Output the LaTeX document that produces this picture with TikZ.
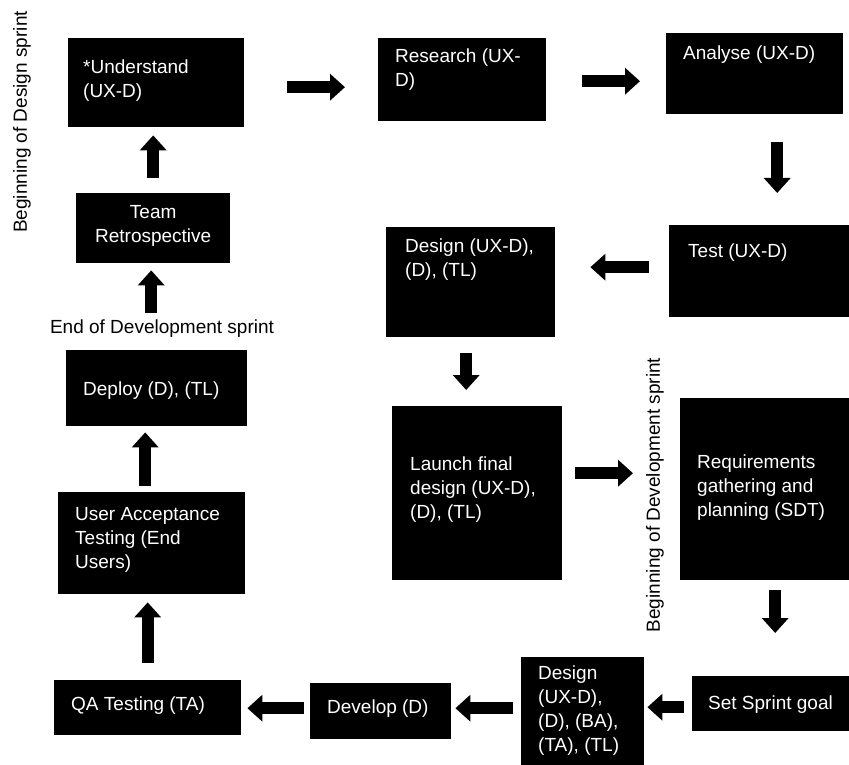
\documentclass[tikz,border=0pt]{standalone}
\usepackage{fontspec}
\setmainfont{Liberation Sans}
\usetikzlibrary{arrows.meta}

\begin{document}
\begin{tikzpicture}[x=1pt, y=-1pt,
  stagebox/.style={fill=black, draw=none, inner sep=0pt, anchor=north west},
  stagetext/.style={text=white, align=left, inner sep=0pt,
    font=\fontsize{19}{24}\selectfont},
  notetext/.style={text=black, inner sep=0pt,
    font=\fontsize{19}{24}\selectfont},
  blockarrow/.style={draw=black, line width=12pt,
    -{Triangle[width=26pt, length=15pt]}}
]
\useasboundingbox (0,0) rectangle (849,765);

% ---------- stages ----------
\node[stagebox, minimum width=176pt, minimum height=89pt]  (understand) at (68,38)  {};
\node[stagebox, minimum width=168pt, minimum height=83pt]  (research)   at (378,38) {};
\node[stagebox, minimum width=177pt, minimum height=81pt]  (analyse)    at (666,33) {};
\node[stagebox, minimum width=180pt, minimum height=92pt]  (test)       at (669,225) {};
\node[stagebox, minimum width=169pt, minimum height=110pt] (design)     at (386,227) {};
\node[stagebox, minimum width=170pt, minimum height=174pt] (launch)     at (392,406) {};
\node[stagebox, minimum width=169pt, minimum height=182pt] (requirements) at (680,398) {};
\node[stagebox, minimum width=157pt, minimum height=55pt]  (setgoal)    at (692,676) {};
\node[stagebox, minimum width=123pt, minimum height=108pt] (designdev)  at (521,657) {};
\node[stagebox, minimum width=141pt, minimum height=56pt]  (develop)    at (310,683) {};
\node[stagebox, minimum width=187pt, minimum height=55pt]  (qa)         at (54,680) {};
\node[stagebox, minimum width=187pt, minimum height=102pt] (uat)        at (58,492) {};
\node[stagebox, minimum width=181pt, minimum height=76pt]  (deploy)     at (66,350) {};
\node[stagebox, minimum width=154pt, minimum height=70pt]  (team)       at (76,193) {};

% ---------- stage texts (anchored on the baseline of the last line) ----------
\node[stagetext, anchor=base west] (tunderstand) at ([xshift=15pt,yshift=-60pt]understand.north west) {*Understand\\(UX-D)};
\node[stagetext, anchor=base west] (tresearch) at ([xshift=17pt,yshift=-49pt]research.north west) {Research (UX-\\D)};
\node[stagetext, anchor=base west] (tanalyse) at ([xshift=17pt,yshift=-27pt]analyse.north west) {Analyse (UX-D)};
\node[stagetext, anchor=base west] (ttest) at ([xshift=19pt,yshift=-32pt]test.north west) {Test (UX-D)};
\node[stagetext, anchor=base west] (tdesign) at ([xshift=19pt,yshift=-49pt]design.north west) {Design (UX-D),\\(D), (TL)};
\node[stagetext, anchor=base west] (tlaunch) at ([xshift=18pt,yshift=-112pt]launch.north west) {Launch final\\design (UX-D),\\(D), (TL)};
\node[stagetext, anchor=base west] (trequirements) at ([xshift=17pt,yshift=-118pt]requirements.north west) {Requirements\\gathering and\\planning (SDT)};
\node[stagetext, anchor=base west] (tsetgoal) at ([xshift=16pt,yshift=-33pt]setgoal.north west) {Set Sprint goal};
\node[stagetext, anchor=base west] (tdesigndev) at ([xshift=17pt,yshift=-94pt]designdev.north west) {Design\\(UX-D),\\(D), (BA),\\(TA), (TL)};
\node[stagetext, anchor=base west] (tdevelop) at ([xshift=17pt,yshift=-30pt]develop.north west) {Develop (D)};
\node[stagetext, anchor=base west] (tqa) at ([xshift=17pt,yshift=-30pt]qa.north west) {QA Testing (TA)};
\node[stagetext, anchor=base west] (tuat) at ([xshift=17pt,yshift=-76pt]uat.north west) {User Acceptance\\Testing (End\\Users)};
\node[stagetext, anchor=base west] (tdeploy) at ([xshift=17pt,yshift=-45pt]deploy.north west) {Deploy (D), (TL)};
\node[stagetext, anchor=base, align=center] (tteam) at ([yshift=-49pt]team.north) {Team\\Retrospective};

% ---------- sprint markers ----------
\node[notetext, rotate=90] (designstart) at (22,122) {Beginning of Design sprint};
\node[notetext, rotate=90] (devstart) at (655,495) {Beginning of Development sprint};
\node[notetext, anchor=base] (devend) at (162,333) {End of Development sprint};

% ---------- flow ----------
\draw[blockarrow, shorten <=43pt, shorten >=33pt]
  ([yshift=-4.5pt]understand.east) -- ([yshift=-4.5pt]understand.east -| research.west);
\draw[blockarrow, shorten <=36pt, shorten >=26pt]
  ([yshift=-1.5pt]research.east) -- ([yshift=-1.5pt]research.east -| analyse.west);
\draw[blockarrow, shorten <=28pt, shorten >=32pt]
  ([xshift=22.5pt]analyse.south) -- ([xshift=22.5pt]analyse.south |- test.north);
\draw[blockarrow, shorten <=20pt, shorten >=35pt]
  ([yshift=4pt]test.west) -- ([yshift=4pt]test.west -| design.east);
\draw[blockarrow, shorten <=16pt, shorten >=16pt]
  ([xshift=-4.5pt]design.south) -- ([xshift=-4.5pt]design.south |- launch.north);
\draw[blockarrow, shorten <=13pt, shorten >=47pt]
  ([yshift=20pt]launch.east) -- ([yshift=20pt]launch.east -| requirements.west);
\draw[blockarrow, shorten <=10pt, shorten >=43pt]
  ([xshift=10.5pt]requirements.south) -- ([xshift=10.5pt]requirements.south |- setgoal.north);
\draw[blockarrow, shorten <=8pt, shorten >=3pt]
  ([yshift=-3.5pt]setgoal.west) -- ([yshift=-3.5pt]setgoal.west -| designdev.east);
\draw[blockarrow, shorten <=8pt, shorten >=4pt]
  ([yshift=3pt]designdev.west |- develop.east) -- ([yshift=3pt]develop.east);
\draw[blockarrow, shorten <=6pt, shorten >=6pt]
  ([yshift=3pt]develop.west) -- ([yshift=3pt]develop.west -| qa.east);
\draw[blockarrow, shorten <=17pt, shorten >=8pt]
  (qa.north) -- (qa.north |- uat.south);
\draw[blockarrow, shorten <=6pt, shorten >=6pt]
  ([xshift=-6.5pt]uat.north) -- ([xshift=-6.5pt]uat.north |- deploy.south);
\draw[blockarrow, shorten <=37pt, shorten >=7pt]
  ([xshift=-5.5pt]deploy.north) -- ([xshift=-5.5pt]deploy.north |- team.south);
\draw[blockarrow, shorten <=15pt, shorten >=8pt]
  (team.north) -- (team.north |- understand.south);
\end{tikzpicture}
\end{document}
